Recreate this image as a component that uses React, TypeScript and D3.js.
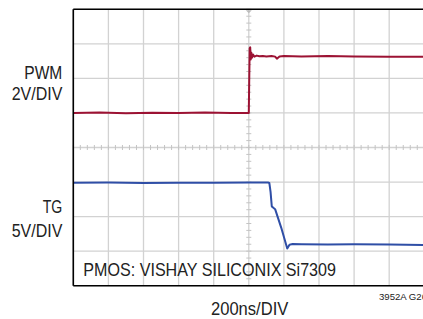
import React from "react";
import * as d3 from "d3";

// Time axis (ns), 200ns/DIV, 10 divisions
const timeDomain = [0, 2000];
const timeGridNs = [0, 200, 400, 600, 800, 1000, 1200, 1400, 1600, 1800, 2000];
const divGrid = [-4, -3, -2, -1, 0, 1, 2, 3, 4];

// PWM channel: 2V/DIV, ground reference at +1 div
const pwmTime = [0, 150, 300, 450, 600, 750, 900, 1000, 1002, 1005, 1008, 1011, 1014, 1018, 1024, 1032, 1045, 1060, 1080, 1100, 1130, 1150, 1160, 1175, 1200, 1300, 1450, 1600, 1800, 2000];
const pwmVolts = [0, 0.02, -0.02, 0.01, 0, 0.02, 0, 0, 1.6, 3.75, 3.8, 3.1, 3.5, 3.2, 3.38, 3.26, 3.32, 3.28, 3.3, 3.27, 3.3, 3.26, 3.14, 3.27, 3.29, 3.27, 3.3, 3.27, 3.26, 3.25];

// TG channel: 5V/DIV, ground reference at -2.805 div
const tgTime = [0, 200, 400, 600, 800, 1000, 1110, 1117, 1124, 1131, 1140, 1150, 1185, 1219, 1232, 1250, 1300, 1450, 1600, 1800, 2000];
const tgVolts = [8.93, 8.95, 8.9, 8.94, 8.92, 8.95, 8.95, 8.9, 7.6, 5.5, 5.3, 5.1, 2.4, -0.6, -0.05, 0.05, 0.02, 0.0, 0.04, 0.0, -0.08];

const pwmZeroDiv = 1.0;
const pwmVoltsPerDiv = 2;
const tgZeroDiv = -2.805;
const tgVoltsPerDiv = 5;

const FONT = "'Liberation Sans', Arial, sans-serif";

export default function App() {
  const x = d3.scaleLinear().domain(timeDomain).range([73.3, 424.3]);
  const y = d3.scaleLinear().domain([-4, 4]).range([285.7, 9.3]);

  const pwmLine = d3
    .line<number>()
    .x((_, i) => x(pwmTime[i]))
    .y((v) => y(pwmZeroDiv + v / pwmVoltsPerDiv));
  const tgLine = d3
    .line<number>()
    .x((_, i) => x(tgTime[i]))
    .y((v) => y(tgZeroDiv + v / tgVoltsPerDiv));

  const cx = x(1000);
  const cy = y(0);
  const minorX: number[] = [];
  for (let t = 0; t <= 2000; t += 40) minorX.push(x(t));
  const minorY: number[] = [];
  for (let d = -4; d <= 4.001; d += 0.2) minorY.push(y(d));

  const gridColor = "#d2d2d2";
  const tickColor = "#c4c4c4";
  const adj = "spacingAndGlyphs";

  return (
    <svg
      width={423}
      height={319}
      style={{ position: "absolute", left: 0, top: 0, background: "#fff" }}
    >
      <rect x={0} y={0} width={423} height={319} fill="#fff" />
      <g>
        {timeGridNs.map((t) => (
          <line key={"vx" + t} x1={x(t)} x2={x(t)} y1={y(4)} y2={y(-4)} stroke={gridColor} strokeWidth={1.3} />
        ))}
        {divGrid.map((d) => (
          <line key={"hy" + d} x1={x(0)} x2={423} y1={y(d)} y2={y(d)} stroke={gridColor} strokeWidth={1.3} />
        ))}
        {minorX.map((px, i) => (
          <line key={"mx" + i} x1={px} x2={px} y1={cy - 2.5} y2={cy + 2.5} stroke={tickColor} strokeWidth={1} />
        ))}
        {minorY.map((py, i) => (
          <line key={"my" + i} x1={cx - 2.5} x2={cx + 2.5} y1={py} y2={py} stroke={tickColor} strokeWidth={1} />
        ))}
        <path d={`M${cx - 3},${y(4) + 1} L${cx + 3},${y(4) + 1} L${cx},${y(4) + 4} Z`} fill="#bbb" />
      </g>
      <path d={pwmLine(pwmVolts) || ""} fill="none" stroke="#9c1233" strokeWidth={2} strokeLinejoin="round" />
      <path d={tgLine(tgVolts) || ""} fill="none" stroke="#2f4ea6" strokeWidth={2} strokeLinejoin="round" />
      <g stroke="#000" strokeWidth={1.6} fill="none">
        <line x1={x(0)} x2={x(0)} y1={y(4)} y2={y(-4)} />
        <line x1={x(0)} x2={423} y1={y(4)} y2={y(4)} />
        <line x1={x(0)} x2={423} y1={y(-4)} y2={y(-4)} />
      </g>
      <g fontFamily={FONT} fill="#222" fontSize={19}>
        <text x={24.3} y={79} textLength={38} lengthAdjust={adj}>PWM</text>
        <text x={11.7} y={100} textLength={50.6} lengthAdjust={adj}>2V/DIV</text>
        <text x={42.7} y={213} textLength={19.6} lengthAdjust={adj}>TG</text>
        <text x={11.7} y={236.7} textLength={50.6} lengthAdjust={adj}>5V/DIV</text>
        <text x={83.3} y={276} fontSize={17.5} textLength={252.7} lengthAdjust={adj}>PMOS: VISHAY SILICONIX Si7309</text>
        <text x={211} y={315} textLength={77.3} lengthAdjust={adj}>200ns/DIV</text>
        <text x={379} y={300} fontSize={8.5} textLength={48} lengthAdjust={adj}>3952A G26</text>
      </g>
    </svg>
  );
}
